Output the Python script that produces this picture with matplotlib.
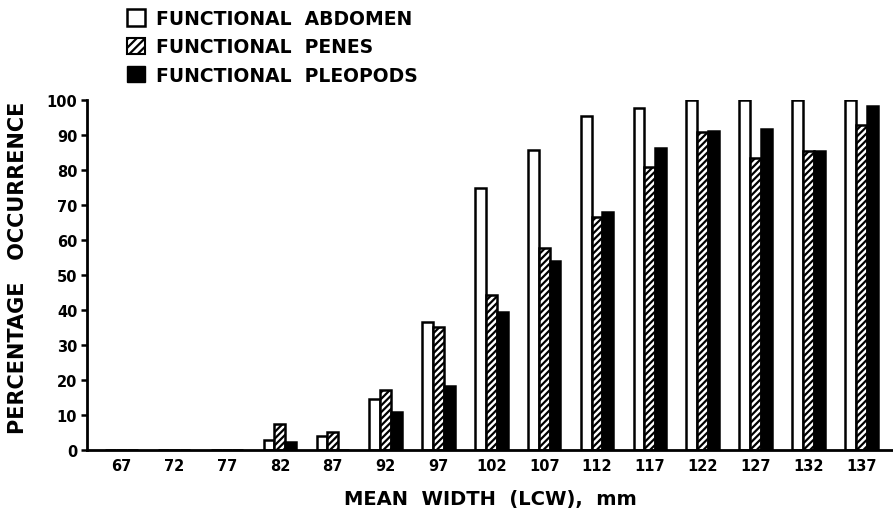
import numpy as np
import matplotlib
matplotlib.use("Agg")
import matplotlib.pyplot as plt
from matplotlib.patches import Patch

plt.rcParams['font.family'] = ['DejaVu Sans']
plt.rcParams['font.weight'] = 'bold'
plt.rcParams['hatch.linewidth'] = 1.6

# mean width classes (LCW, mm)
widths = ['67', '72', '77', '82', '87', '92', '97', '102', '107', '112', '117', '122', '127', '132', '137']
abdomen = [0, 0, 0, 3, 4, 14.6, 36.6, 74.8, 85.7, 95.5, 97.6, 100, 100, 100, 100]
penes = [0, 0, 0, 7.5, 5.2, 17.1, 35.2, 44.3, 57.6, 66.7, 81, 91, 83.3, 85.5, 92.9]
pleopods = [0, 0, 0, 2.2, 0, 11, 18.2, 39.3, 53.9, 67.9, 86.3, 91.2, 91.7, 85.5, 98.2]

fig = plt.figure(figsize=(8.93, 5.10), dpi=100)
ax = fig.add_axes([87/893, 59/510, 806/893, 350/510])

x = np.arange(len(widths))
w = 0.205
ax.bar(x - w, abdomen, w, color='white', edgecolor='black', linewidth=1.8)
ax.bar(x, penes, w, color='white', edgecolor='black', linewidth=1.8, hatch='/////')
ax.bar(x + w, pleopods, w, color='black', edgecolor='black', linewidth=1.8)

ax.set_xlim(-0.65, 14.6)
ax.set_ylim(0, 100)
ax.set_yticks(np.arange(0, 101, 10))
ax.set_xticks(x)
ax.set_xticklabels(widths)
ax.tick_params(axis='x', length=0, pad=6, labelsize=10.5)
ax.tick_params(axis='y', length=4, width=1.8, labelsize=10.5, pad=3)
for s in ['top', 'right']:
    ax.spines[s].set_visible(False)
for s in ['left', 'bottom']:
    ax.spines[s].set_linewidth(2)

ax.set_xlabel('MEAN  WIDTH  (LCW),  mm', fontsize=14, labelpad=11, fontweight='bold')
fig.text(18/893, 1 - 268/510, 'PERCENTAGE   OCCURRENCE', rotation=90, fontsize=15,
         fontweight='bold', ha='center', va='center')

handles = [
    Patch(facecolor='white', edgecolor='black', linewidth=1.8),
    Patch(facecolor='white', edgecolor='black', linewidth=1.5, hatch='////'),
    Patch(facecolor='black', edgecolor='black'),
]
labels = ['FUNCTIONAL  ABDOMEN', 'FUNCTIONAL  PENES', 'FUNCTIONAL  PLEOPODS']
fig.legend(handles, labels, loc='upper left', bbox_to_anchor=(127/893, 1 - 10/510),
           frameon=False, fontsize=13.5, handlelength=0.95, handleheight=0.95,
           handletextpad=0.6, labelspacing=0.5, borderpad=0, borderaxespad=0)

fig.savefig('out.png', dpi=100)
